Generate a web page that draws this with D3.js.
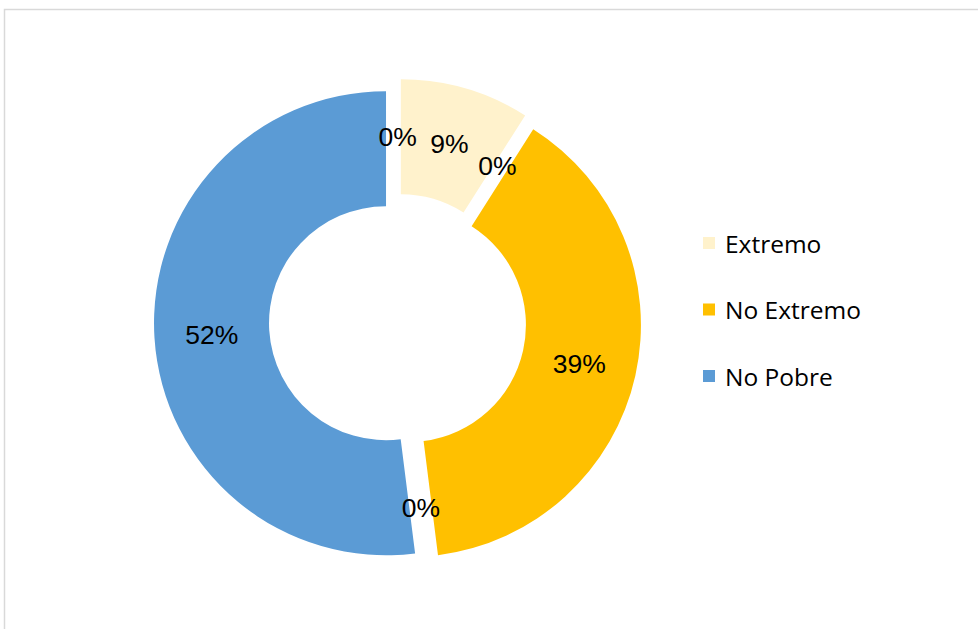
<!DOCTYPE html>
<html>
<head>
<meta charset="utf-8">
<script src="https://cdn.jsdelivr.net/npm/d3@7"></script>
<style>
  html, body { margin: 0; padding: 0; background: #fff; }
  svg { display: block; }
</style>
</head>
<body>
<svg id="chart" width="978" height="629"></svg>
<script>
// Poverty classification shares (zero-valued points sit between the categories)
const categories = ["Extremo", "", "No Extremo", "", "No Pobre", ""];
const values = [9, 0, 39, 0, 52, 0];
const legendLabels = ["Extremo", "No Extremo", "No Pobre"];
const colors = { "Extremo": "#FFF2CC", "No Extremo": "#FFC000", "No Pobre": "#5B9BD5", "": "#FFFFFF" };

const svg = d3.select("#chart");

// chart area frame
svg.append("rect")
  .attr("x", 4.5).attr("y", 9.5)
  .attr("width", 1000).attr("height", 700)
  .attr("fill", "none")
  .attr("stroke", "#d9d9d9")
  .attr("stroke-width", 1.5);

const cx = 397.6, cy = 322.5;
const outerR = 232, innerR = 117;
const explode = 11.6;

const data = categories.map((c, i) => ({ category: c, value: values[i] }));
const total = d3.sum(values);
const pct = d3.format(".0%");

const pie = d3.pie().sort(null).value(d => d.value).startAngle(0).endAngle(2 * Math.PI);
const arc = d3.arc().innerRadius(innerR).outerRadius(outerR);
const arcs = pie(data);

const offset = a => {
  const m = (a.startAngle + a.endAngle) / 2;
  return [Math.sin(m) * explode, -Math.cos(m) * explode];
};

const g = svg.append("g").attr("transform", `translate(${cx},${cy})`);

g.selectAll("path.slice")
  .data(arcs.filter(a => a.value > 0))
  .join("path")
  .attr("class", "slice")
  .attr("d", arc)
  .attr("fill", d => colors[d.data.category])
  .attr("transform", d => `translate(${offset(d)})`);

g.selectAll("text.lbl")
  .data(arcs)
  .join("text")
  .attr("class", "lbl")
  .attr("transform", d => {
    const [ox, oy] = offset(d);
    const [x, y] = arc.centroid(d);
    return `translate(${x + ox},${y + oy})`;
  })
  .attr("text-anchor", "middle")
  .attr("dy", "0.36em")
  .attr("font-family", "'Liberation Sans', Arial, sans-serif")
  .attr("font-size", 26.5)
  .attr("fill", "#000")
  .text(d => pct(d.value / total));

// legend
const legend = svg.append("g").attr("transform", "translate(703,0)");
const rowY = d3.scalePoint().domain(legendLabels).range([243, 376]);
const items = legend.selectAll("g.item")
  .data(legendLabels)
  .join("g")
  .attr("class", "item")
  .attr("transform", d => `translate(0,${rowY(d)})`);
items.append("rect")
  .attr("x", 0).attr("y", -6)
  .attr("width", 12).attr("height", 12)
  .attr("fill", d => colors[d]);
items.append("text")
  .attr("x", 22)
  .attr("y", 9.5)
  .attr("font-family", "'Open Sans', Lato, sans-serif")
  .attr("font-size", 24.5)
  .attr("fill", "#000")
  .text(d => d);
</script>
</body>
</html>
